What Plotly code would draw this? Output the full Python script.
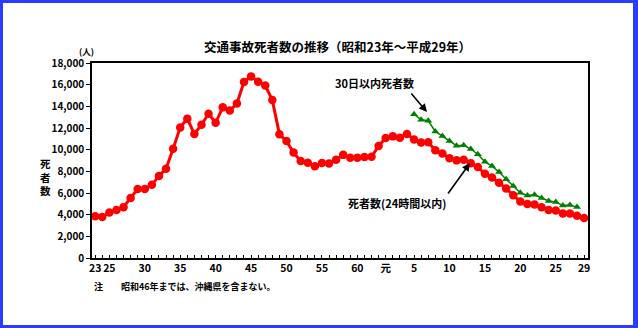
import plotly.graph_objects as go

# 交通事故死者数（24時間以内）: 1948(昭和23)〜2017(平成29)
years = list(range(1948, 2018))
deaths_24h = [
    3848, 3790, 4202, 4429, 4696, 5544, 6374, 6379, 6751, 7575,
    8248, 10079, 12055, 12865, 11445, 12301, 13318, 12484, 13904, 13618,
    14256, 16257, 16765, 16278, 15918, 14574, 11432, 10792, 9734, 8945,
    8783, 8466, 8760, 8719, 9073, 9520, 9262, 9261, 9317, 9347,
    10344, 11086, 11227, 11109, 11452, 10945, 10653, 10684, 9943, 9642,
    9214, 9012, 9073, 8757, 8396, 7768, 7436, 6937, 6415, 5796,
    5209, 4979, 4948, 4691, 4438, 4388, 4113, 4117, 3904, 3694,
]

# 30日以内死者数: 1993(平成5)〜2016(平成28)
years_30d = list(range(1993, 2017))
deaths_30d = [
    13269, 12768, 12670, 11674, 11254, 10805, 10372, 10403, 10060, 9575,
    8877, 8492, 7931, 7272, 6639, 6023, 5772, 5828, 5535, 5261,
    5165, 4838, 4885, 4698,
]

# x軸の目盛ラベル（和暦）
tick_years = [1948, 1950, 1955, 1960, 1965, 1970, 1975, 1980, 1985,
              1989, 1993, 1998, 2003, 2008, 2013, 2017]
tick_labels = ["23", "25", "30", "35", "40", "45", "50", "55", "60",
               "元", "5", "10", "15", "20", "25", "29"]

W, H = 638, 328
L, R, T, B = 92, 588, 63, 258
FONT = "Noto Sans CJK JP"


def px(x):
    return (x - L) / (R - L)


def py(y):
    return (B - y) / (B - T)


def txt(size):
    return dict(size=size, color="#000", family=FONT, weight="bold")


fig = go.Figure()

fig.add_trace(go.Scatter(
    x=years_30d, y=deaths_30d, mode="lines+markers",
    line=dict(color="#008000", width=1.5),
    marker=dict(symbol="triangle-up", size=7, color="#008000"),
    showlegend=False, cliponaxis=False,
))

fig.add_trace(go.Scatter(
    x=years, y=deaths_24h, mode="lines+markers",
    line=dict(color="#ff0000", width=3),
    marker=dict(symbol="circle", size=8.5, color="#ff0000"),
    showlegend=False, cliponaxis=False,
))

annotations = [
    dict(text="交通事故死者数の推移（昭和23年～平成29年）",
         x=px(337), y=py(46), font=txt(12.5)),
    dict(text="(人)", x=px(86), y=py(51), font=txt(8.5)),
    dict(text="死<br>者<br>数", x=px(45), y=py(177), font=txt(10.5),
         align="center"),
    dict(text="30日以内死者数", x=px(374), y=py(83), font=txt(11)),
    dict(text="死者数(24時間以内)", x=px(397), y=py(203), font=txt(11)),
    dict(text="注　　昭和46年までは、沖縄県を含まない。", x=px(92), y=py(286),
         xanchor="left", font=txt(9)),
    # arrows
    dict(text="", x=px(427), y=py(112), ax=-17, ay=-20, showarrow=True,
         arrowhead=2, arrowsize=1, arrowwidth=1.6, arrowcolor="#000"),
    dict(text="", x=px(470), y=py(163), ax=-23, ay=32, showarrow=True,
         arrowhead=2, arrowsize=1, arrowwidth=1.6, arrowcolor="#000"),
]
for a in annotations:
    a.setdefault("xref", "paper")
    a.setdefault("yref", "paper")
    a.setdefault("showarrow", False)
    a.setdefault("xanchor", "center")
    a.setdefault("yanchor", "middle")

# blue frame around the whole figure
frame = []
for x0, y0, x1, y1 in [(0, 0, 3, H), (633, 0, W, H), (0, 0, W, 3), (0, 325, W, H)]:
    frame.append(dict(type="rect", xref="paper", yref="paper",
                      x0=px(x0), x1=px(x1), y0=py(y1), y1=py(y0),
                      fillcolor="#2a3cff", line=dict(width=0), layer="above"))

fig.update_layout(
    width=W, height=H,
    margin=dict(l=L, r=W - R, t=T, b=H - B),
    paper_bgcolor="white", plot_bgcolor="white",
    font=dict(family=FONT, color="#000"),
    annotations=annotations,
    shapes=frame,
    xaxis=dict(
        range=[years[0] - 0.45, years[-1] + 0.55],
        tickvals=tick_years, ticktext=tick_labels, tickangle=0,
        ticks="inside", ticklen=3, tickcolor="#000", tickwidth=1,
        minor=dict(ticks="inside", tick0=years[0], dtick=1, ticklen=3,
                   tickcolor="#000", tickwidth=1, showgrid=False),
        showline=True, linecolor="#000", linewidth=1.5, mirror=True,
        showgrid=False, zeroline=False,
        tickfont=txt(10.5),
    ),
    yaxis=dict(
        range=[0, 18000], dtick=2000, tickformat=",d",
        ticks="outside", ticklen=4, tickcolor="#000",
        showline=True, linecolor="#000", linewidth=1.5, mirror=True,
        showgrid=False, zeroline=False,
        tickfont=txt(10),
    ),
)

fig.write_html("out.html")
